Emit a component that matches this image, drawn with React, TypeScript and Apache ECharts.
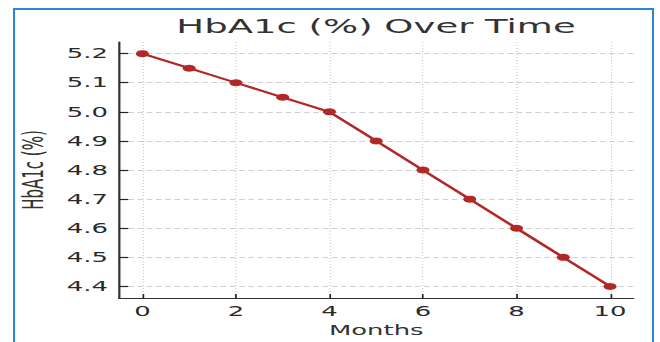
import React, { useEffect, useRef } from "react";
import * as echarts from "echarts";

const months = [0, 1, 2, 3, 4, 5, 6, 7, 8, 9, 10];
const hba1c = [5.2, 5.15, 5.1, 5.05, 5.0, 4.9, 4.8, 4.7, 4.6, 4.5, 4.4];
const xTicks = [0, 2, 4, 6, 8, 10];
const yTicks = [4.4, 4.5, 4.6, 4.7, 4.8, 4.9, 5.0, 5.1, 5.2];
const titleText = "HbA1c (%) Over Time";
const xName = "Months";
const yName = "HbA1c (%)";

const S = 1.85; // horizontal stretch of the original picture
const W = 660 / S;
const FONT = "DejaVu Sans";

export default function App() {
  const ref = useRef<HTMLDivElement>(null);

  useEffect(() => {
    if (!ref.current) return;
    const chart = echarts.init(ref.current, undefined, { renderer: "svg" });
    const plotLeft = 119 / S;
    const plotRight = 633 / S;
    chart.setOption({
      animation: false,
      backgroundColor: "transparent",
      textStyle: { fontFamily: FONT },
      graphic: [
        {
          type: "text",
          x: (plotLeft + plotRight) / 2,
          y: 16,
          style: {
            text: titleText,
            align: "center",
            textAlign: "center",
            verticalAlign: "top",
            textVerticalAlign: "top",
            fontSize: 20,
            fontFamily: FONT,
            fill: "#333",
          },
        },
      ],
      grid: { left: plotLeft, right: W - plotRight, top: 42, bottom: 40 },
      xAxis: {
        type: "value",
        min: -0.5,
        max: 10.5,
        name: xName,
        nameLocation: "middle",
        nameGap: 18,
        nameTextStyle: { fontSize: 14, color: "#333", fontFamily: FONT },
        axisLine: { show: true, onZero: false, lineStyle: { color: "#333", width: 1.2 } },
        axisTick: {
          show: true,
          inside: true,
          length: 4,
          customValues: xTicks,
          lineStyle: { color: "#222", width: 0.9 },
        },
        axisLabel: {
          customValues: xTicks,
          fontSize: 14,
          margin: 6,
          color: "#2a2a2a",
          fontFamily: FONT,
        },
        splitLine: {
          show: true,
          lineStyle: { type: [1, 2], color: "#c8c8c8", width: 0.6 },
        },
      },
      yAxis: {
        type: "value",
        min: 4.36,
        max: 5.24,
        name: yName,
        nameLocation: "middle",
        nameGap: 27,
        nameTextStyle: { fontSize: 15, color: "#333", fontFamily: FONT },
        axisLine: { show: true, onZero: false, lineStyle: { color: "#333", width: 1.2 } },
        axisTick: {
          show: true,
          inside: true,
          length: 5,
          customValues: yTicks,
          lineStyle: { color: "#222", width: 1.2 },
        },
        axisLabel: {
          customValues: yTicks,
          formatter: (v: number) => v.toFixed(1),
          fontSize: 14,
          margin: 6,
          color: "#2a2a2a",
          fontFamily: FONT,
        },
        splitLine: {
          show: true,
          lineStyle: { type: [3, 2], color: "#d0d0d0", width: 1 },
        },
      },
      series: [
        {
          type: "line",
          data: months.map((m, i) => [m, hba1c[i]]),
          symbol: "circle",
          symbolSize: 7,
          lineStyle: { color: "#b22727", width: 2 },
          itemStyle: { color: "#b22727" },
          z: 5,
        },
      ],
    });
    return () => chart.dispose();
  }, []);

  return (
    <div
      style={{
        position: "fixed",
        left: 0,
        top: 0,
        width: 660,
        height: 342,
        overflow: "hidden",
        background: "#fff",
      }}
    >
      <div
        style={{
          position: "absolute",
          left: 13,
          top: 8,
          width: 641,
          height: 334,
          boxSizing: "border-box",
          borderLeft: "2px solid #2b86d8",
          borderTop: "2px solid #2b86d8",
          borderRight: "2px solid #2b86d8",
        }}
      />
      <div
        ref={ref}
        style={{
          position: "absolute",
          left: 0,
          top: 0,
          width: W,
          height: 342,
          transform: `scaleX(${S})`,
          transformOrigin: "0 0",
        }}
      />
    </div>
  );
}
